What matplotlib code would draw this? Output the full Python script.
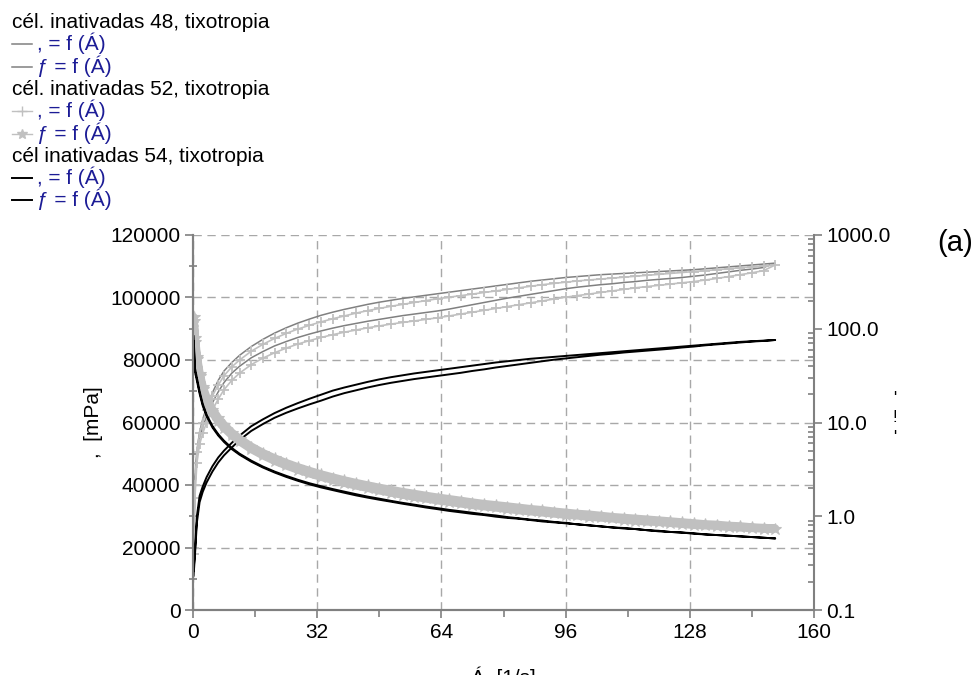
import numpy as np
import matplotlib
matplotlib.use('Agg')
import matplotlib.pyplot as plt
from matplotlib.lines import Line2D
from matplotlib.ticker import MultipleLocator, LogLocator, FormatStrFormatter, NullFormatter

plt.rcParams['font.family'] = ['Liberation Sans', 'DejaVu Sans']
plt.rcParams['font.size'] = 15

# shear rate [1/s], same points on the up and the down ramp
shear_rate = [0.15, 0.5, 1, 1.7, 2.5, 3.5, 5, 6.5, 8, 10,
              12, 15, 18, 21, 24, 27, 30, 33, 36, 39,
              42, 45, 48, 51, 54, 57, 60, 63, 66, 69,
              72, 75, 78, 81, 84, 87, 90, 93, 96, 99,
              102, 105, 108, 111, 114, 117, 120, 123, 126, 129,
              132, 135, 138, 141, 144, 147, 150]

# shear stress [mPa]
tau_48_up = [22000, 42000, 51000, 57000, 61000, 65000, 69500, 73500, 76500, 79200,
             81500, 84300, 86600, 88600, 90300, 91800, 93100, 94300, 95300, 96200,
             97000, 97800, 98500, 99100, 99700, 100200, 100700, 101200, 101700, 102200,
             102700, 103200, 103700, 104200, 104700, 105200, 105600, 106000, 106400, 106700,
             107000, 107300, 107500, 107700, 107900, 108100, 108300, 108500, 108700, 108900,
             109200, 109500, 109800, 110100, 110400, 110700, 111000]
tau_48_down = [20000, 40000, 49500, 55000, 58500, 62000, 66300, 69800, 72800, 75800,
               78000, 80700, 82700, 84500, 85900, 87200, 88300, 89300, 90200, 91000,
               91700, 92400, 93000, 93600, 94200, 94700, 95200, 95700, 96300, 97000,
               97700, 98400, 99100, 99800, 100400, 101000, 101600, 102200, 102800, 103300,
               103700, 104100, 104400, 104800, 105100, 105500, 105800, 106100, 106400, 106800,
               107200, 107700, 108200, 108700, 109100, 109600, 110000]
tau_52_up = [20000, 40000, 50500, 56500, 60000, 64000, 68500, 72000, 75000, 77800,
             80000, 82800, 85000, 86900, 88500, 89900, 91100, 92200, 93200, 94100,
             95000, 95800, 96500, 97200, 97800, 98400, 99000, 99600, 100100, 100600,
             101100, 101600, 102100, 102600, 103100, 103600, 104100, 104500, 104900, 105300,
             105600, 105900, 106200, 106500, 106800, 107100, 107400, 107700, 108000, 108300,
             108600, 108900, 109200, 109500, 109800, 110100, 110400]
tau_52_down = [18000, 36000, 47000, 53000, 56500, 60000, 64000, 67500, 70500, 73500,
               75800, 78500, 80600, 82300, 83800, 85100, 86200, 87200, 88100, 88900,
               89600, 90300, 90900, 91500, 92000, 92500, 93000, 93500, 94100, 94700,
               95300, 95900, 96500, 97100, 97700, 98300, 98900, 99500, 100100, 100600,
               101100, 101600, 102100, 102600, 103100, 103500, 103900, 104300, 104700, 105100,
               105600, 106100, 106700, 107300, 107900, 108600, 109400]
tau_54_up = [12500, 19000, 30000, 36500, 39500, 42500, 46000, 48800, 51000, 53500,
             55800, 58800, 61000, 63000, 64700, 66200, 67600, 68900, 70200, 71200,
             72100, 73000, 73800, 74500, 75100, 75700, 76200, 76700, 77200, 77700,
             78200, 78700, 79200, 79600, 80000, 80400, 80700, 81000, 81300, 81600,
             81900, 82200, 82500, 82800, 83100, 83400, 83700, 84000, 84300, 84600,
             84900, 85200, 85500, 85800, 86000, 86200, 86400]
tau_54_down = [11000, 17500, 28000, 34500, 37800, 40800, 44300, 47200, 49500, 52000,
               54400, 57300, 59500, 61500, 63100, 64500, 65800, 67000, 68300, 69400,
               70300, 71200, 72000, 72700, 73300, 73900, 74400, 74900, 75400, 75900,
               76500, 77000, 77600, 78100, 78600, 79100, 79600, 80100, 80500, 80900,
               81300, 81700, 82000, 82400, 82700, 83000, 83300, 83600, 84000, 84300,
               84700, 85000, 85300, 85600, 85900, 86100, 86400]

# viscosity [Pa.s], right log axis
eta_48_up = [147, 84.0, 51.0, 33.5, 24.4, 18.6, 13.9, 11.3, 9.56, 7.92,
             6.79, 5.62, 4.81, 4.22, 3.76, 3.40, 3.10, 2.86, 2.65, 2.47,
             2.31, 2.17, 2.05, 1.94, 1.85, 1.76, 1.68, 1.61, 1.54, 1.48,
             1.43, 1.38, 1.33, 1.29, 1.25, 1.21, 1.17, 1.14, 1.11, 1.08,
             1.05, 1.02, 1.00, 0.97, 0.95, 0.92, 0.90, 0.88, 0.86, 0.84,
             0.83, 0.81, 0.80, 0.78, 0.77, 0.75, 0.74]
eta_48_down = [133, 80.0, 49.5, 32.4, 23.4, 17.7, 13.3, 10.7, 9.10, 7.58,
               6.50, 5.38, 4.59, 4.02, 3.58, 3.23, 2.94, 2.71, 2.51, 2.33,
               2.18, 2.05, 1.94, 1.84, 1.74, 1.66, 1.59, 1.52, 1.46, 1.41,
               1.36, 1.31, 1.27, 1.23, 1.20, 1.16, 1.13, 1.10, 1.07, 1.04,
               1.02, 0.99, 0.97, 0.94, 0.92, 0.90, 0.88, 0.86, 0.84, 0.83,
               0.81, 0.80, 0.78, 0.77, 0.76, 0.75, 0.73]
eta_52_up = [133, 80.0, 50.5, 33.2, 24.0, 18.3, 13.7, 11.1, 9.38, 7.78,
             6.67, 5.52, 4.72, 4.14, 3.69, 3.33, 3.04, 2.79, 2.59, 2.41,
             2.26, 2.13, 2.01, 1.91, 1.81, 1.73, 1.65, 1.58, 1.52, 1.46,
             1.40, 1.35, 1.31, 1.27, 1.23, 1.19, 1.16, 1.12, 1.09, 1.06,
             1.04, 1.01, 0.98, 0.96, 0.94, 0.92, 0.90, 0.88, 0.86, 0.84,
             0.82, 0.81, 0.79, 0.78, 0.76, 0.75, 0.74]
eta_52_down = [120, 72.0, 47.0, 31.2, 22.6, 17.1, 12.8, 10.4, 8.81, 7.35,
               6.32, 5.23, 4.48, 3.92, 3.49, 3.15, 2.87, 2.64, 2.45, 2.28,
               2.13, 2.01, 1.89, 1.79, 1.70, 1.62, 1.55, 1.48, 1.43, 1.37,
               1.32, 1.28, 1.24, 1.20, 1.16, 1.13, 1.10, 1.07, 1.04, 1.02,
               0.99, 0.97, 0.95, 0.92, 0.90, 0.88, 0.87, 0.85, 0.83, 0.81,
               0.80, 0.79, 0.77, 0.76, 0.75, 0.74, 0.73]
eta_54_up = [83.3, 38.0, 30.0, 21.5, 15.8, 12.1, 9.20, 7.51, 6.38, 5.35,
             4.65, 3.92, 3.39, 3.00, 2.70, 2.45, 2.25, 2.09, 1.95, 1.83,
             1.72, 1.62, 1.54, 1.46, 1.39, 1.33, 1.27, 1.22, 1.17, 1.13,
             1.09, 1.05, 1.02, 0.98, 0.95, 0.92, 0.90, 0.87, 0.85, 0.82,
             0.80, 0.78, 0.76, 0.75, 0.73, 0.71, 0.70, 0.68, 0.67, 0.66,
             0.64, 0.63, 0.62, 0.61, 0.60, 0.59, 0.58]
eta_54_down = [73.3, 35.0, 28.0, 20.3, 15.1, 11.7, 8.86, 7.26, 6.19, 5.20,
               4.53, 3.82, 3.31, 2.93, 2.63, 2.39, 2.19, 2.03, 1.90, 1.78,
               1.67, 1.58, 1.50, 1.43, 1.36, 1.30, 1.24, 1.19, 1.14, 1.10,
               1.06, 1.03, 0.99, 0.96, 0.94, 0.91, 0.88, 0.86, 0.84, 0.82,
               0.80, 0.78, 0.76, 0.74, 0.73, 0.71, 0.69, 0.68, 0.67, 0.65,
               0.64, 0.63, 0.62, 0.61, 0.60, 0.59, 0.58]

samples = ['cél. inativadas 48, tixotropia', 'cél. inativadas 52, tixotropia',
           'cél inativadas 54, tixotropia']
entry_labels = [', = f (Á)', 'ƒ = f (Á)']


def loop(up, down):
    # up ramp 0 -> 150, then down ramp 150 -> 0
    return np.concatenate([np.asarray(up, float), np.asarray(down, float)[::-1][1:]])


x_loop = loop(shear_rate, shear_rate)

W, H = 975, 675
fig = plt.figure(figsize=(W / 100, H / 100), dpi=100)
ax = fig.add_axes([193 / W, 65 / H, 621 / W, 375 / H])
ax2 = ax.twinx()

spine_col = '#808080'
styles = [
    dict(color='#808080', lw=1.1),
    dict(color='#c0c0c0', lw=1.0),
    dict(color='black', lw=1.4),
]
taus = [(tau_48_up, tau_48_down), (tau_52_up, tau_52_down), (tau_54_up, tau_54_down)]
etas = [(eta_48_up, eta_48_down), (eta_52_up, eta_52_down), (eta_54_up, eta_54_down)]

for i in range(3):
    st = styles[i]
    if i == 1:
        ax.plot(x_loop, loop(*taus[i]), color=st['color'], lw=1.2,
                marker='+', ms=7, mew=1.3)
        # dense star markers form a thick band in the original
        ax2.plot(x_loop, loop(*etas[i]), color=st['color'], lw=6,
                 marker='*', ms=9, mew=0.8, solid_capstyle='round')
    else:
        ax.plot(x_loop, loop(*taus[i]), **st)
        ax2.plot(x_loop, loop(*etas[i]), **st)

ax.set_xlim(0, 160)
ax.set_ylim(0, 120000)
ax.xaxis.set_major_locator(MultipleLocator(32))
ax.xaxis.set_minor_locator(MultipleLocator(16))
ax.yaxis.set_major_locator(MultipleLocator(20000))
ax.yaxis.set_minor_locator(MultipleLocator(10000))
ax.grid(True, which='major', ls=(0, (6, 4)), color='#a8a8a8', lw=1)

ax2.set_yscale('log')
ax2.set_ylim(0.1, 1000)
ax2.yaxis.set_major_locator(LogLocator(base=10))
ax2.yaxis.set_major_formatter(FormatStrFormatter('%.1f'))
ax2.yaxis.set_minor_locator(LogLocator(base=10, subs=np.arange(2, 10)))
ax2.yaxis.set_minor_formatter(NullFormatter())

for a in (ax, ax2):
    a.spines['top'].set_visible(False)
    for s in ('left', 'right', 'bottom'):
        a.spines[s].set_color(spine_col)
        a.spines[s].set_linewidth(1.5)
ax.spines['right'].set_visible(False)

ax.tick_params(which='major', direction='out', length=6, width=1.2, color=spine_col,
               labelsize=15, pad=3)
ax.tick_params(axis='x', which='minor', direction='out', length=5, width=1.2, color=spine_col)
ax.tick_params(axis='y', which='minor', direction='inout', length=6, width=1.2, color=spine_col)
ax2.tick_params(which='major', direction='out', length=6, width=1.2, color=spine_col,
                labelsize=15, pad=3)
ax2.tick_params(which='minor', direction='in', length=4, width=1.2, color=spine_col)

ax.set_ylabel(',  [mPa]', fontsize=15, labelpad=5)
ax.set_xlabel('Á  [1/s]', fontsize=15, labelpad=18)

fig.text(895 / W, 1 - 418 / H, "'\n!\n'", fontsize=12, ha='center', va='center',
         linespacing=1.4)
fig.text(955 / W, 1 - 243 / H, '(a)', fontsize=21, ha='center', va='center')

# legend block, top left
row_h = 22.3
y0 = 22
blue = '#1c1c96'
marks = [(None, None), ('+', '*'), (None, None)]
row = 0
for i, name in enumerate(samples):
    fig.text(12 / W, 1 - (y0 + row * row_h + 6) / H, name, fontsize=15, va='baseline')
    row += 1
    for k, lab in enumerate(entry_labels):
        yc = 1 - (y0 + row * row_h) / H
        ln = Line2D([12 / W, 22 / W, 32 / W], [yc, yc, yc], transform=fig.transFigure,
                    marker=marks[i][k], markevery=[1], ms=7, mew=1, **styles[i])
        fig.add_artist(ln)
        fig.text(37 / W, yc - 6 / H, lab, fontsize=15, color=blue, va='baseline')
        row += 1

fig.savefig('out.png', dpi=100)
